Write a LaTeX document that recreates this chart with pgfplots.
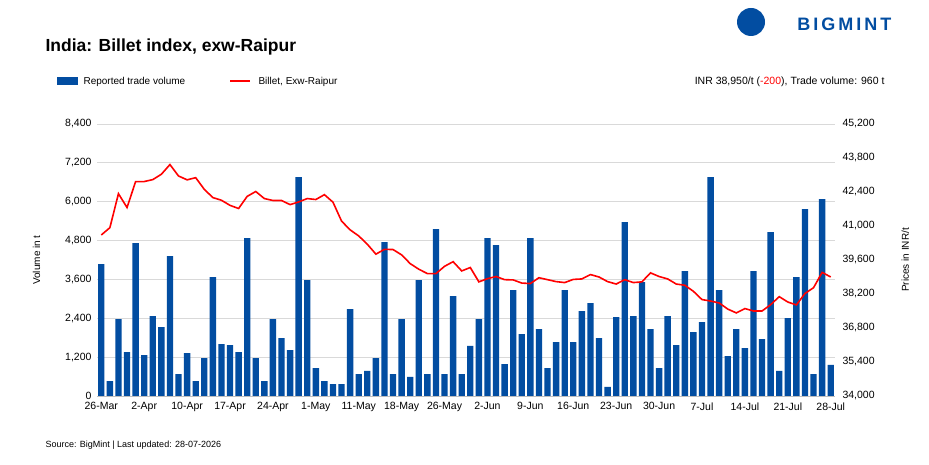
\documentclass[border=0pt]{standalone}
\usepackage{pgfplots}
\pgfplotsset{compat=1.18}
\usepackage{fontspec}
\setmainfont{Liberation Sans}
\definecolor{barblue}{HTML}{024DA1}
\definecolor{gridgray}{HTML}{D9D9D9}
\pgfplotsset{myax/.style={scale only axis, width=738pt, height=272pt, xmin=-0.5, xmax=85.5,
  /pgf/number format/assume math mode=true, /pgf/number format/1000 sep={,},
  tick label style={font=\fontsize{10.5}{12}\selectfont}, major tick length=0pt,
  at={(97pt,69pt)}, anchor=south west}}
\begin{document}
\begin{tikzpicture}
\path (0pt,0pt) rectangle (929pt,465pt);
\begin{axis}[myax,
  ymin=0, ymax=8400, ytick={0,1200,...,8400},
  ymajorgrids, grid style={gridgray, line width=0.8pt},
  axis x line*=bottom, axis y line*=left, y axis line style={draw=none},
  x axis line style={gridgray!70!gray, line width=0.8pt},
  xtick={0,5,...,85}, xticklabel style={yshift=-3pt},
  yticklabel style={xshift=-2pt},
  xticklabels={26-Mar,2-Apr,10-Apr,17-Apr,24-Apr,1-May,11-May,18-May,26-May,2-Jun,9-Jun,16-Jun,23-Jun,30-Jun,7-Jul,14-Jul,21-Jul,28-Jul},
  ylabel={Volume in t}, ylabel style={font=\fontsize{10}{12}\selectfont, yshift=18pt},
  scaled y ticks=false]
\addplot[ybar, bar width=0.74, fill=barblue, draw=none] coordinates {
(0,4075)(1,463)(2,2377)(3,1358)(4,4723)(5,1266)(6,2470)(7,2130)(8,4322)(9,679)
(10,1327)(11,463)(12,1173)(13,3674)(14,1605)(15,1574)(16,1358)(17,4878)(18,1173)(19,463)
(20,2377)(21,1790)(22,1420)(23,6760)(24,3581)(25,864)(26,463)(27,370)(28,370)(29,2686)
(30,679)(31,772)(32,1173)(33,4754)(34,679)(35,2377)(36,587)(37,3581)(38,679)(39,5155)
(40,679)(41,3087)(42,679)(43,1544)(44,2377)(45,4878)(46,4661)(47,988)(48,3272)(49,1914)
(50,4878)(51,2068)(52,864)(53,1667)(54,3272)(55,1667)(56,2624)(57,2871)(58,1790)(59,278)
(60,2439)(61,5371)(62,2470)(63,3519)(64,2068)(65,864)(66,2470)(67,1574)(68,3859)(69,1976)
(70,2284)(71,6760)(72,3272)(73,1235)(74,2068)(75,1482)(76,3859)(77,1760)(78,5063)(79,772)
(80,2408)(81,3674)(82,5773)(83,679)(84,6082)(85,960)};
\end{axis}
\begin{axis}[myax,
  ymin=34000, ymax=45200, ytick={34000,35400,...,45200},
  axis x line=none, axis y line*=right, y axis line style={draw=none},
  yticklabel style={xshift=4pt},
  ylabel={Prices in INR/t}, ylabel style={font=\fontsize{10}{12}\selectfont, yshift=-20pt},
  scaled y ticks=false]
\addplot[red, line width=1.6pt, mark=none] coordinates {
(0,40630)(1,40930)(2,42330)(3,41760)(4,42830)(5,42830)(6,42910)(7,43130)(8,43530)(9,43060)
(10,42900)(11,42990)(12,42510)(13,42170)(14,42060)(15,41850)(16,41720)(17,42220)(18,42420)(19,42130)
(20,42050)(21,42050)(22,41880)(23,41990)(24,42130)(25,42090)(26,42290)(27,41980)(28,41200)(29,40840)
(30,40590)(31,40250)(32,39840)(33,40040)(34,40030)(35,39810)(36,39450)(37,39220)(38,39040)(39,39040)
(40,39340)(41,39530)(42,39150)(43,39290)(44,38700)(45,38830)(46,38920)(47,38790)(48,38780)(49,38650)
(50,38630)(51,38870)(52,38790)(53,38710)(54,38670)(55,38800)(56,38820)(57,39000)(58,38900)(59,38710)
(60,38610)(61,38790)(62,38670)(63,38700)(64,39070)(65,38920)(66,38820)(67,38610)(68,38560)(69,38310)
(70,37970)(71,37910)(72,37830)(73,37580)(74,37420)(75,37600)(76,37500)(77,37500)(78,37760)(79,38090)
(80,37870)(81,37750)(82,38220)(83,38460)(84,39090)(85,38900)};
\end{axis}
\node[anchor=base west, font=\fontsize{17.5}{20}\selectfont\bfseries] at (42pt,413pt) {India: Billet index, exw-Raipur};
\fill[barblue] (57pt,380pt) rectangle (78pt,388pt);
\node[anchor=base west, font=\fontsize{10}{12}\selectfont] at (80pt,380pt) {Reported trade volume};
\draw[red, line width=1.6pt] (230pt,384pt) -- (250pt,384pt);
\node[anchor=base west, font=\fontsize{10}{12}\selectfont] at (255pt,380pt) {Billet, Exw-Raipur};
\node[anchor=base east, font=\fontsize{10.5}{12}\selectfont] at (888pt,380pt) {INR 38,950/t (\textcolor{red}{-200}), Trade volume: 960 t};
\node[anchor=base west, font=\fontsize{9}{11}\selectfont] at (42pt,17pt) {Source: BigMint | Last updated: 28-07-2026};
\node[anchor=east, font=\fontsize{18}{20}\selectfont\bfseries, text=barblue] at (895pt,441pt) {B\,I\,G\,M\,I\,N\,T};
\fill[barblue] (751pt,443pt) circle (14pt);
\end{tikzpicture}
\end{document}
